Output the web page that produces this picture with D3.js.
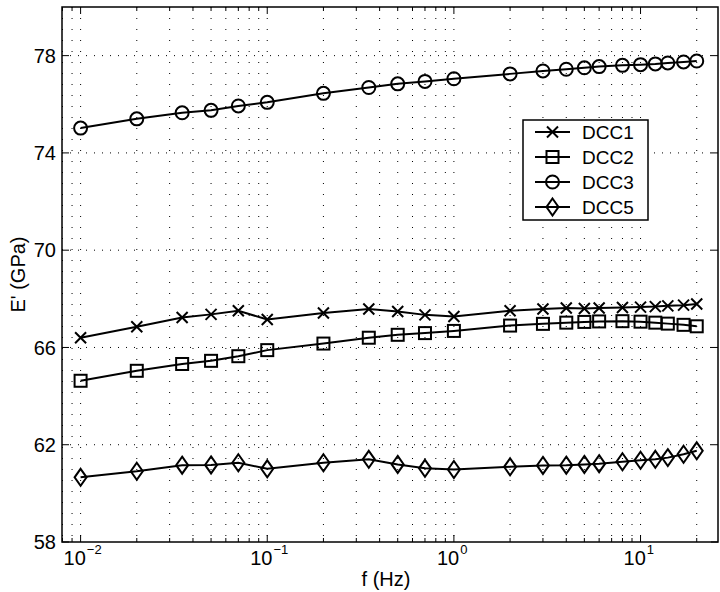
<!DOCTYPE html>
<html lang="en">
<head>
    <meta charset="UTF-8">
    <title>E' vs frequency</title>
    <script src="https://d3js.org/d3.v7.min.js"></script>
    <style>
        body {
            margin: 0;
            background: #fff;
        }

        svg text {
            font-family: "Liberation Sans", Arial, sans-serif;
            fill: #000;
        }
    </style>
</head>
<body>
    <div id="chart"></div>
    <script>
        // frequencies (Hz), shared by every series
        const freqs = [0.01, 0.02, 0.035, 0.05, 0.07, 0.1, 0.2, 0.35, 0.5, 0.7, 1,
                       2, 3, 4, 5, 6, 8, 10, 12, 14, 17, 20];

        const dcc1 = [66.40, 66.85, 67.23, 67.36, 67.51, 67.15, 67.42, 67.58, 67.48, 67.34, 67.27,
                      67.51, 67.58, 67.62, 67.60, 67.62, 67.64, 67.66, 67.68, 67.71, 67.74, 67.79];
        const dcc2 = [64.63, 65.04, 65.32, 65.45, 65.64, 65.89, 66.16, 66.40, 66.52, 66.59, 66.68,
                      66.90, 66.97, 67.02, 67.05, 67.07, 67.08, 67.06, 67.02, 66.98, 66.93, 66.87];
        const dcc3 = [75.02, 75.40, 75.65, 75.75, 75.93, 76.08, 76.45, 76.69, 76.84, 76.94, 77.05,
                      77.25, 77.37, 77.44, 77.50, 77.55, 77.60, 77.63, 77.66, 77.70, 77.74, 77.78];
        const dcc5 = [60.66, 60.91, 61.16, 61.17, 61.26, 61.01, 61.26, 61.40, 61.19, 61.03, 60.98,
                      61.09, 61.15, 61.16, 61.19, 61.22, 61.30, 61.36, 61.40, 61.47, 61.61, 61.75];

        const seriesNames = ['DCC1', 'DCC2', 'DCC3', 'DCC5'];
        const seriesMarkers = ['x', 'square', 'circle', 'diamond'];
        const yTicks = [58, 62, 66, 70, 74, 78];
        const xMajor = [0.01, 0.1, 1, 10];
        const xMajorExp = ['\u22122', '\u22121', '0', '1'];

        const width = 720, height = 592;
        const margin = { top: 7, right: 2, bottom: 50, left: 62 };
        const innerW = width - margin.left - margin.right;
        const innerH = height - margin.top - margin.bottom;

        const x = d3.scaleLog().domain([0.00795, 26]).range([0, innerW]);
        const y = d3.scaleLinear().domain([58, 80]).range([innerH, 0]);

        // every decade tick 1..9 inside the domain, for grid and minor ticks
        const xAll = [];
        for (let e = -3; e <= 1; e++) {
            for (let m = 1; m <= 9; m++) {
                const v = m * Math.pow(10, e);
                if (v >= x.domain()[0] && v <= x.domain()[1]) xAll.push(+v.toPrecision(3));
            }
        }
        const xMinor = xAll.filter(v => !xMajor.some(M => Math.abs(M - v) / M < 1e-6));

        const svg = d3.select('#chart').append('svg')
            .attr('width', width)
            .attr('height', height);

        const g = svg.append('g')
            .attr('transform', `translate(${margin.left},${margin.top})`);

        // dotted grid
        g.append('g').selectAll('line')
            .data(xAll)
            .enter().append('line')
            .attr('x1', d => x(d)).attr('x2', d => x(d))
            .attr('y1', 0).attr('y2', innerH)
            .attr('stroke', '#000')
            .attr('stroke-width', 1)
            .attr('stroke-dasharray', '1,10');

        g.append('g').selectAll('line')
            .data(yTicks.slice(1))
            .enter().append('line')
            .attr('x1', 0).attr('x2', innerW)
            .attr('y1', d => y(d)).attr('y2', d => y(d))
            .attr('stroke', '#000')
            .attr('stroke-width', 1)
            .attr('stroke-dasharray', '1,7');

        // ticks on all four sides, pointing inward
        const tickG = g.append('g').attr('stroke', '#000').attr('stroke-width', 1);
        xMajor.forEach(v => {
            tickG.append('line').attr('x1', x(v)).attr('x2', x(v)).attr('y1', innerH).attr('y2', innerH - 7);
            tickG.append('line').attr('x1', x(v)).attr('x2', x(v)).attr('y1', 0).attr('y2', 7);
        });
        xMinor.forEach(v => {
            tickG.append('line').attr('x1', x(v)).attr('x2', x(v)).attr('y1', innerH).attr('y2', innerH - 4);
            tickG.append('line').attr('x1', x(v)).attr('x2', x(v)).attr('y1', 0).attr('y2', 4);
        });
        yTicks.forEach(v => {
            tickG.append('line').attr('x1', 0).attr('x2', 7).attr('y1', y(v)).attr('y2', y(v));
            tickG.append('line').attr('x1', innerW).attr('x2', innerW - 7).attr('y1', y(v)).attr('y2', y(v));
        });

        // tick labels
        g.append('g').selectAll('text')
            .data(yTicks)
            .enter().append('text')
            .attr('x', -6)
            .attr('y', d => y(d))
            .attr('dy', '0.36em')
            .attr('text-anchor', 'end')
            .style('font-size', '20px')
            .text(d => d);

        const xl = g.append('g').selectAll('text')
            .data(xMajor)
            .enter().append('text')
            .attr('x', d => x(d) - 17)
            .attr('y', innerH + 23)
            .attr('text-anchor', 'start')
            .style('font-size', '20px');
        xl.append('tspan').text('10');
        xl.append('tspan')
            .attr('dx', 1)
            .attr('dy', -11)
            .style('font-size', '13px')
            .text((d, i) => xMajorExp[i]);

        // axis titles
        svg.append('text')
            .attr('x', margin.left + innerW / 2 - 4)
            .attr('y', 586)
            .attr('text-anchor', 'middle')
            .style('font-size', '20px')
            .text('f (Hz)');

        svg.append('text')
            .attr('transform', `translate(25,${margin.top + innerH / 2}) rotate(-90)`)
            .attr('text-anchor', 'middle')
            .style('font-size', '20px')
            .text('E\' (GPa)');

        // markers
        function drawMarker(sel, type) {
            if (type === 'x') {
                sel.append('path').attr('d', 'M-5.5,-5.5L5.5,5.5M-5.5,5.5L5.5,-5.5');
            } else if (type === 'square') {
                sel.append('rect').attr('x', -6).attr('y', -6).attr('width', 12).attr('height', 12);
            } else if (type === 'circle') {
                sel.append('circle').attr('r', 6.5);
            } else {
                sel.append('path').attr('d', 'M0,-8.5L6,0L0,8.5L-6,0Z');
            }
        }

        const line = d3.line()
            .x(d => x(d[0]))
            .y(d => y(d[1]));

        const allSeries = [dcc1, dcc2, dcc3, dcc5];
        allSeries.forEach((vals, si) => {
            const pts = freqs.map((f, i) => [f, vals[i]]);
            g.append('path')
                .datum(pts)
                .attr('fill', 'none')
                .attr('stroke', '#000')
                .attr('stroke-width', 2)
                .attr('d', line);

            const mk = g.append('g')
                .attr('fill', 'none')
                .attr('stroke', '#000')
                .attr('stroke-width', 2)
                .selectAll('g')
                .data(pts)
                .enter().append('g')
                .attr('transform', d => `translate(${x(d[0])},${y(d[1])})`);
            mk.each(function () { drawMarker(d3.select(this), seriesMarkers[si]); });
        });

        // frame
        g.append('rect')
            .attr('width', innerW)
            .attr('height', innerH)
            .attr('fill', 'none')
            .attr('stroke', '#000')
            .attr('stroke-width', 1.5);

        // legend
        const leg = svg.append('g').attr('transform', 'translate(523,120)');
        leg.append('rect')
            .attr('width', 125)
            .attr('height', 100)
            .attr('fill', '#fff')
            .attr('stroke', '#000')
            .attr('stroke-width', 1.5);

        seriesNames.forEach((name, i) => {
            const row = leg.append('g').attr('transform', `translate(0,${12 + i * 25})`);
            row.append('line')
                .attr('x1', 12).attr('x2', 47)
                .attr('stroke', '#000')
                .attr('stroke-width', 2);
            const m = row.append('g')
                .attr('transform', 'translate(29.5,0)')
                .attr('fill', 'none')
                .attr('stroke', '#000')
                .attr('stroke-width', 2);
            drawMarker(m, seriesMarkers[i]);
            row.append('text')
                .attr('x', 59)
                .attr('dy', '0.36em')
                .style('font-size', '19px')
                .text(name);
        });
    </script>
</body>
</html>
